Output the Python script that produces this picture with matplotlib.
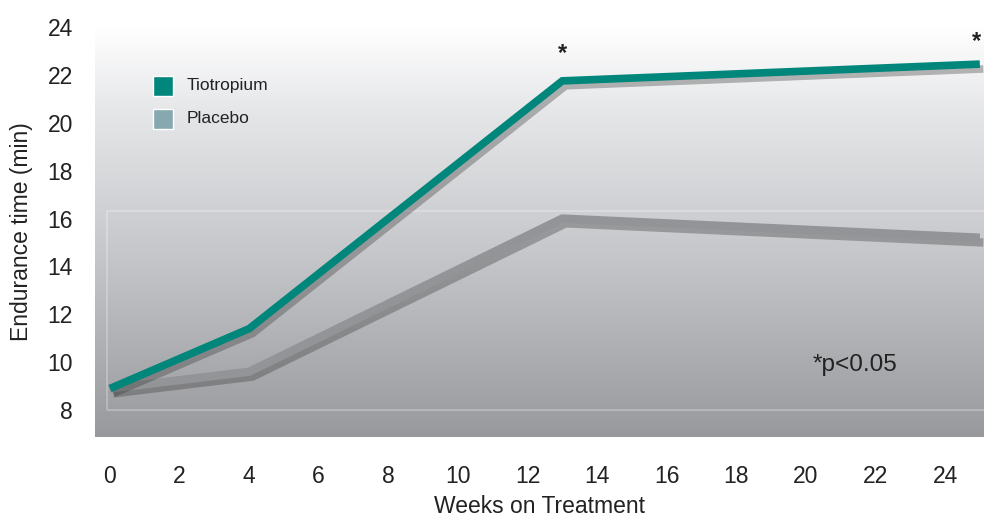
import numpy as np
import matplotlib.pyplot as plt
import matplotlib.patheffects as pe
from matplotlib.colors import LinearSegmentedColormap
from matplotlib.patches import Rectangle

plt.rcParams['font.family'] = ['Liberation Sans', 'DejaVu Sans']

# Datos
semanas = [0, 4, 13, 25]
tiotropium = [8.9, 11.4, 21.75, 22.45]
placebo = [8.9, 9.6, 16.0, 15.2]
series = ["Tiotropium", "Placebo"]
x_ticks = list(range(0, 25, 2))
y_ticks = list(range(8, 25, 2))

verde = '#00867b'
gris = '#939497'
gris_leyenda = '#86a9b0'

fig = plt.figure(figsize=(9.84, 5.2), dpi=100)
ax = fig.add_axes([95 / 984, 83 / 520, 889 / 984, 410 / 520])

xmin, xmax = -0.43, 25.12
ymin, ymax = 6.875, 24.0
ax.set_xlim(xmin, xmax)
ax.set_ylim(ymin, ymax)

# Fondo degradado (blanco arriba, gris abajo)
cmap = LinearSegmentedColormap.from_list(
    'fondo', [(0, '#98999c'), (0.45, '#c6c7ca'), (0.8, '#e6e7e9'), (1, '#ffffff')])
grad = np.linspace(0, 1, 256).reshape(-1, 1)
ax.imshow(grad, aspect='auto', cmap=cmap, origin='lower',
          extent=[xmin, xmax, ymin, ymax], zorder=0)

# Rectangulo tenue
ax.add_patch(Rectangle((-0.09, 8), 30, 16.33 - 8, fill=False,
                       edgecolor='white', alpha=0.3, lw=1.2, zorder=1))

sombra = [pe.SimpleLineShadow(offset=(2.5, -3.5), shadow_color='#3a3a3a', alpha=0.35),
          pe.Normal()]

ax.plot(semanas, placebo, color=gris, lw=6, solid_joinstyle='miter',
        solid_capstyle='butt', path_effects=sombra, zorder=3)
ax.plot(semanas, tiotropium, color=verde, lw=5.5, solid_joinstyle='miter',
        solid_capstyle='butt', path_effects=sombra, zorder=4)

# Asteriscos de significancia
ax.text(13, tiotropium[2] + 1.15, '*', ha='center', va='center',
        fontsize=17, fontweight='bold', color='#222222')
ax.text(24.9, tiotropium[3] + 0.95, '*', ha='center', va='center',
        fontsize=17, fontweight='bold', color='#222222')
ax.text(21.4, 9.9, '*p<0.05', ha='center', va='center', fontsize=17.5, color='#222222')

# Leyenda manual
for i, (nombre, col) in enumerate(zip(series, [verde, gris_leyenda])):
    y = 21.55 - i * 1.38
    ax.add_patch(Rectangle((1.24, y - 0.42), 0.57, 0.84, facecolor=col,
                           edgecolor='white', lw=1, zorder=5))
    ax.text(2.21, y, nombre, va='center', ha='left', fontsize=12.5, color='#222222')

ax.set_xticks(x_ticks)
ax.set_yticks(y_ticks)
ax.tick_params(length=0, labelsize=16.5, colors='#222222')
ax.tick_params(axis='x', pad=20)
ax.tick_params(axis='y', pad=16)
for s in ax.spines.values():
    s.set_visible(False)

ax.set_xlabel('Weeks on Treatment', fontsize=16.5, color='#222222', labelpad=5)
ax.set_ylabel('Endurance time (min)', fontsize=16.5, color='#222222', labelpad=10)

plt.savefig('out.png', dpi=100)
